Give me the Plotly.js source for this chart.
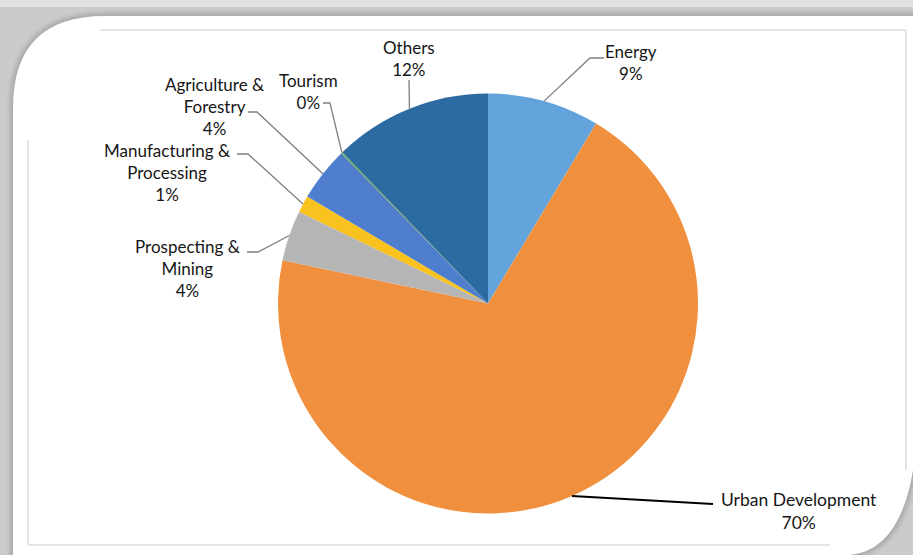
<!DOCTYPE html>
<html>
<head>
<meta charset="utf-8">
<script src="https://cdn.plot.ly/plotly-3.0.1.min.js"></script>
<style>html,body{margin:0;padding:0;background:#fff;}#chart{width:913px;height:555px;}</style>
</head>
<body>
<div id="chart"></div>
<script>
// ---- data ----
const categories = ['Energy', 'Urban Development', 'Prospecting & Mining', 'Manufacturing & Processing', 'Agriculture & Forestry', 'Tourism', 'Others'];
const shares = [8.6, 69.7, 3.9, 1.3, 4.2, 0.1, 12.2];
const sliceColors = ['#62A3DB', '#F0903E', '#B5B5B5', '#F9C21E', '#4E7ECD', '#70AD47', '#2C6AA2'];

// ---- layout constants (pixels) ----
const W = 913, H = 555;
const CX = 488, CY = 303.5, R = 210;
const px = x => x / W;
const py = y => 1 - y / H;

// label placement: text block centre, leader stub start/elbow (layout, not data)
const labelPos = [
  {x: 631, y: 63,    size: 17,   stub: [[604, 58], [590, 58]], color: '#7f7f7f', w: 1.3},
  {x: 799, y: 510.5, size: 17.5, stub: [[713, 504]],           color: '#000000', w: 2},
  {x: 187, y: 269,   size: 17,   stub: [[247, 252], [258, 252]], color: '#7f7f7f', w: 1.3},
  {x: 167, y: 173,   size: 17,   stub: [[237, 154], [248, 154]], color: '#7f7f7f', w: 1.3},
  {x: 214, y: 106.5, size: 17,   stub: [[248, 112], [257, 112]], color: '#7f7f7f', w: 1.3},
  {x: 308, y: 91,    size: 17,   stub: [[323, 103], [330, 103]], color: '#7f7f7f', w: 1.3},
  {x: 409, y: 58.5,  size: 17,   stub: [[409, 80]],            color: '#7f7f7f', w: 1.3}
];

const total = shares.reduce((a, b) => a + b, 0);

// slice mid-angles (clockwise from 12 o'clock) from the data
let cum = 0;
const midAngles = shares.map(v => {
  const a = (cum + v / 2) / total * 2 * Math.PI;
  cum += v;
  return a;
});

const annotations = [];
const shapes = [];

// ---- frame decoration ----
shapes.push({type: 'rect', xref: 'paper', yref: 'paper', x0: 0, x1: 1, y0: py(7), y1: 1,
  fillcolor: '#e2e2e2', line: {width: 0}, layer: 'below'});
function cardPath(e) {
  return `M ${px(13 - e)} ${py(560)} L ${px(13 - e)} ${py(108)} Q ${px(13 - e)} ${py(16 - e)} ${px(105)} ${py(16 - e)} ` +
         `L ${px(920)} ${py(16 - e)} L ${px(920)} ${py(470)} L ${px(913 + e)} ${py(470)} ` +
         `Q ${px(900 + e)} ${py(550 + e)} ${px(850)} ${py(555 + e)} L ${px(850)} ${py(560)} Z`;
}
[[6, '#c4c4c4'], [4, '#b9b9b9'], [2, '#afafaf']].forEach(([e, c]) => {
  shapes.push({type: 'path', xref: 'paper', yref: 'paper', layer: 'below',
    path: cardPath(e), fillcolor: c, line: {width: 0}});
});
shapes.push({type: 'path', xref: 'paper', yref: 'paper', layer: 'below',
  path: cardPath(0), fillcolor: '#ffffff', line: {width: 0}});
// inner faint frame
const frameLine = {color: '#e4e4e4', width: 2};
shapes.push({type: 'line', xref: 'paper', yref: 'paper', x0: px(100), x1: px(906), y0: py(30), y1: py(30), line: frameLine, layer: 'below'});
shapes.push({type: 'line', xref: 'paper', yref: 'paper', x0: px(906), x1: px(906), y0: py(30), y1: py(470), line: frameLine, layer: 'below'});
shapes.push({type: 'line', xref: 'paper', yref: 'paper', x0: px(28), x1: px(28), y0: py(140), y1: py(545), line: frameLine, layer: 'below'});
shapes.push({type: 'line', xref: 'paper', yref: 'paper', x0: px(28), x1: px(830), y0: py(545), y1: py(545), line: frameLine, layer: 'below'});

// ---- labels and leader lines built from the data ----
categories.forEach((name, i) => {
  const pct = Math.round(shares[i] / total * 100) + '%';
  const txt = name.replace(' & ', ' &amp;<br>') + '<br>' + pct;
  const lp = labelPos[i];
  annotations.push({
    xref: 'paper', yref: 'paper', x: px(lp.x), y: py(lp.y),
    xanchor: 'center', yanchor: 'middle', align: 'center',
    text: txt, showarrow: false,
    font: {family: 'Lato, sans-serif', size: lp.size, color: '#161616'}
  });
  const a = midAngles[i];
  const ex = CX + R * Math.sin(a);
  const ey = CY - R * Math.cos(a);
  const pts = lp.stub.concat([[ex, ey]]);
  let d = `M ${px(pts[0][0])} ${py(pts[0][1])}`;
  for (let k = 1; k < pts.length; k++) d += ` L ${px(pts[k][0])} ${py(pts[k][1])}`;
  shapes.push({type: 'path', xref: 'paper', yref: 'paper', path: d,
    line: {color: lp.color, width: lp.w}, layer: 'above'});
});

const trace = {
  type: 'pie',
  labels: categories,
  values: shares,
  sort: false,
  direction: 'clockwise',
  rotation: 0,
  marker: {colors: sliceColors, line: {width: 0}},
  textinfo: 'none',
  hoverinfo: 'none',
  showlegend: false,
  domain: {x: [px(CX - R), px(CX + R)], y: [py(CY + R), py(CY - R)]}
};

const layout = {
  width: W, height: H,
  margin: {l: 0, r: 0, t: 0, b: 0},
  paper_bgcolor: '#cbcbcb',
  plot_bgcolor: 'rgba(0,0,0,0)',
  showlegend: false,
  annotations: annotations,
  shapes: shapes
};

Plotly.newPlot('chart', [trace], layout, {displayModeBar: false, staticPlot: true});
</script>
</body>
</html>
